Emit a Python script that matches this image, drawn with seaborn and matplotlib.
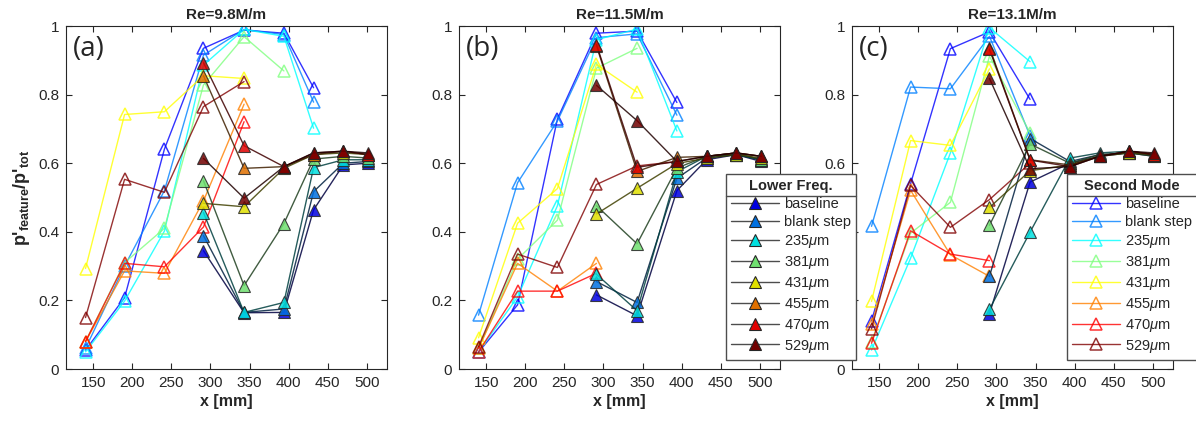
import numpy as np
import pandas as pd
import matplotlib
matplotlib.use("Agg")
import matplotlib.pyplot as plt
from matplotlib.lines import Line2D
import seaborn as sns

nan = np.nan

# streamwise measurement stations [mm]
x_mm = [140, 190, 241, 291, 343, 394, 432, 470, 502]

configs = ["baseline", "blank step", "235", "381", "431", "455", "470", "529"]
legend_labels = ["baseline", "blank step"] + [rf"{c}$\mu$m" for c in configs[2:]]

# jet(8) colour order
jet8 = [(0.0, 0.0, 1.0), (0.0, 0.5, 1.0), (0.0, 1.0, 1.0), (0.5, 1.0, 0.5),
        (1.0, 1.0, 0.0), (1.0, 0.5, 0.0), (1.0, 0.0, 0.0), (0.5, 0.0, 0.0)]

titles = ["Re=9.8M/m", "Re=11.5M/m", "Re=13.1M/m"]
panel_tags = ["(a)", "(b)", "(c)"]

# ---- Re = 9.8 M/m ----
second_a = [
    [0.055, 0.208, 0.641, 0.935, 0.988, 0.979, 0.820, nan, nan],
    [0.060, 0.300, 0.520, 0.915, 0.990, 0.975, 0.778, nan, nan],
    [0.050, 0.198, 0.402, 0.886, 0.990, 0.970, 0.702, nan, nan],
    [0.080, 0.310, 0.410, 0.828, 0.969, 0.869, nan, nan, nan],
    [0.293, 0.742, 0.750, 0.855, 0.847, nan, nan, nan, nan],
    [0.080, 0.286, 0.279, 0.490, 0.772, nan, nan, nan, nan],
    [0.080, 0.308, 0.298, 0.414, 0.721, nan, nan, nan, nan],
    [0.150, 0.553, 0.515, 0.765, 0.838, nan, nan, nan, nan],
]
lower_a = [
    [nan, nan, nan, 0.345, 0.164, 0.165, 0.464, 0.595, 0.600],
    [nan, nan, nan, 0.389, 0.165, 0.175, 0.517, 0.600, 0.605],
    [nan, nan, nan, 0.456, 0.165, 0.194, 0.587, 0.610, 0.610],
    [nan, nan, nan, 0.549, 0.243, 0.424, 0.612, 0.620, 0.615],
    [nan, nan, nan, 0.483, 0.473, 0.585, 0.625, 0.630, 0.625],
    [nan, nan, nan, 0.855, 0.585, 0.590, 0.625, 0.635, 0.625],
    [nan, nan, nan, 0.893, 0.651, 0.590, 0.630, 0.635, 0.625],
    [nan, nan, nan, 0.614, 0.498, 0.590, 0.630, 0.635, 0.630],
]

# ---- Re = 11.5 M/m ----
second_b = [
    [0.049, 0.187, 0.729, 0.979, 0.985, 0.777, nan, nan, nan],
    [0.157, 0.543, 0.723, 0.966, 0.977, 0.740, nan, nan, nan],
    [0.050, 0.210, 0.476, 0.960, 0.991, 0.694, nan, nan, nan],
    [0.060, 0.320, 0.434, 0.877, 0.935, nan, nan, nan, nan],
    [0.091, 0.425, 0.526, 0.888, 0.807, nan, nan, nan, nan],
    [0.060, 0.308, 0.227, 0.308, nan, nan, nan, nan, nan],
    [0.050, 0.227, 0.227, 0.279, nan, nan, nan, nan, nan],
    [0.065, 0.335, 0.296, 0.538, 0.592, 0.605, nan, nan, nan],
]
lower_b = [
    [nan, nan, nan, 0.216, 0.155, 0.520, 0.610, 0.625, 0.605],
    [nan, nan, nan, 0.255, 0.194, 0.556, 0.615, 0.625, 0.610],
    [nan, nan, nan, 0.276, 0.170, 0.575, 0.620, 0.625, 0.610],
    [nan, nan, nan, 0.476, 0.365, 0.586, 0.620, 0.630, 0.610],
    [nan, nan, nan, 0.452, 0.527, 0.599, 0.615, 0.625, 0.615],
    [nan, nan, nan, 0.942, 0.576, 0.617, 0.620, 0.630, 0.620],
    [nan, nan, nan, 0.946, 0.588, 0.605, 0.620, 0.630, 0.620],
    [nan, nan, nan, 0.827, 0.724, 0.605, 0.620, 0.630, 0.620],
]

# ---- Re = 13.1 M/m ----
second_c = [
    [0.140, 0.540, 0.934, 0.983, 0.786, nan, nan, nan, nan],
    [0.416, 0.822, 0.817, 0.970, 0.680, nan, nan, nan, nan],
    [0.055, 0.323, 0.630, 0.995, 0.896, nan, nan, nan, nan],
    [0.080, 0.396, 0.486, 0.912, 0.688, nan, nan, nan, nan],
    [0.197, 0.666, 0.652, 0.875, nan, nan, nan, nan, nan],
    [0.130, 0.521, 0.333, 0.270, nan, nan, nan, nan, nan],
    [0.075, 0.403, 0.335, 0.316, nan, nan, nan, nan, nan],
    [0.117, 0.535, 0.413, 0.494, 0.600, nan, nan, nan, nan],
]
lower_c = [
    [nan, nan, nan, 0.161, 0.545, 0.600, 0.620, 0.630, 0.620],
    [nan, nan, nan, 0.270, 0.672, 0.605, 0.625, 0.630, 0.625],
    [nan, nan, nan, 0.174, 0.399, 0.615, 0.630, 0.635, 0.625],
    [nan, nan, nan, 0.419, 0.656, 0.600, 0.625, 0.630, 0.620],
    [nan, nan, nan, 0.471, 0.578, 0.595, 0.620, 0.630, 0.625],
    [nan, nan, nan, 0.937, 0.610, 0.595, 0.620, 0.635, 0.625],
    [nan, nan, nan, 0.932, 0.609, 0.590, 0.620, 0.635, 0.625],
    [nan, nan, nan, 0.847, 0.584, 0.590, 0.620, 0.635, 0.630],
]

second_sets = [second_a, second_b, second_c]
lower_sets = [lower_a, lower_b, lower_c]


def long_frame(rows):
    recs = []
    for cfg, vals in zip(configs, rows):
        for xv, yv in zip(x_mm, vals):
            if not np.isnan(yv):
                recs.append({"x": xv, "ratio": yv, "config": cfg})
    return pd.DataFrame(recs)


sns.set_theme(style="ticks")
plt.rcParams.update({
    "font.family": ["Liberation Sans", "DejaVu Sans"],
    "mathtext.fontset": "custom",
    "mathtext.rm": "Liberation Sans",
    "mathtext.it": "Liberation Sans:italic",
    "mathtext.bf": "Liberation Sans:bold",
    "axes.edgecolor": "0.15",
    "xtick.color": "0.15",
    "ytick.color": "0.15",
    "xtick.labelcolor": "0.15",
    "ytick.labelcolor": "0.15",
})

W, H = 1196, 423
fig = plt.figure(figsize=(W / 100, H / 100), dpi=100)

lefts = [66, 459, 852]
ax_w = 321
ax_top, ax_bot = 26, 369

open_alpha = 0.8
fill_scale = 0.88
ms = 8

for k in range(3):
    ax = fig.add_axes([lefts[k] / W, 1 - ax_bot / H, ax_w / W, (ax_bot - ax_top) / H])
    d_open = long_frame(second_sets[k])
    d_fill = long_frame(lower_sets[k])

    for i, cfg in enumerate(configs):
        sub = d_open[d_open["config"] == cfg]
        if len(sub):
            sns.lineplot(data=sub, x="x", y="ratio", ax=ax, color=jet8[i],
                         alpha=open_alpha, lw=1.0, marker="^", markersize=ms,
                         markerfacecolor="none", markeredgecolor=jet8[i],
                         markeredgewidth=1.1, legend=False, zorder=2)
    for i, cfg in enumerate(configs):
        sub = d_fill[d_fill["config"] == cfg]
        if len(sub):
            c = jet8[i]
            face = tuple(fill_scale * v for v in c)
            dark = tuple(0.25 * v for v in c)
            sns.lineplot(data=sub, x="x", y="ratio", ax=ax, color=dark,
                         alpha=0.85, lw=1.0, marker="^", markersize=ms,
                         markerfacecolor=face, markeredgecolor="0.15",
                         markeredgewidth=0.8, legend=False, zorder=3)

    ax.set_xlim(115, 526)
    ax.set_ylim(0, 1)
    ax.set_xticks([150, 200, 250, 300, 350, 400, 450, 500])
    ax.set_yticks([0, 0.2, 0.4, 0.6, 0.8, 1.0])
    ylabels = ["0", "0.2", "0.4", "0.6", "0.8", "1"]
    if k == 2:
        # these two sit underneath the neighbouring legend box
        ylabels = ["0", "", "", "0.6", "0.8", "1"]
    ax.set_yticklabels(ylabels)
    ax.tick_params(direction="in", top=True, right=True, length=4, width=0.8,
                   labelsize=11, pad=5)
    for sp in ax.spines.values():
        sp.set_linewidth(0.8)
    ax.set_title(titles[k], fontsize=11, fontweight="bold", pad=5)
    ax.set_xlabel("x [mm]", fontsize=11.5, fontweight="bold", labelpad=3)
    if k == 0:
        ax.set_ylabel(r"p'$_{\mathbf{feature}}$/p'$_{\mathbf{tot}}$",
                      fontsize=13, fontweight="bold", labelpad=4)
    else:
        ax.set_ylabel("")
    ax.text(0.02, 0.975, panel_tags[k], transform=ax.transAxes, fontsize=20,
            family="Open Sans", va="top", ha="left")

# legends
h_lower = [Line2D([0], [0], color="0.3", lw=1.0, marker="^", markersize=ms,
                  markerfacecolor=tuple(fill_scale * v for v in c),
                  markeredgecolor="0.15", markeredgewidth=0.8) for c in jet8]
h_second = [Line2D([0], [0], color=c, alpha=open_alpha, lw=1.0, marker="^",
                   markersize=ms, markerfacecolor="none", markeredgecolor=c,
                   markeredgewidth=1.1) for c in jet8]

leg_kw = dict(loc="upper left", bbox_transform=fig.transFigure, borderaxespad=0,
              frameon=True, fancybox=False, fontsize=10.5, handlelength=3.3,
              handletextpad=0.3, labelspacing=0.27, borderpad=0.35,
              title_fontproperties={"weight": "bold", "size": 10.5})
legs = []
legs.append(fig.legend(h_lower, legend_labels, title="Lower Freq.",
                       bbox_to_anchor=(726 / W, 1 - 174 / H), **leg_kw))
legs.append(fig.legend(h_second, legend_labels, title="Second Mode",
                       bbox_to_anchor=(1067 / W, 1 - 174 / H), **leg_kw))
for lg in legs:
    fr = lg.get_frame()
    fr.set_edgecolor("0.3")
    fr.set_linewidth(1.0)
    fr.set_alpha(1.0)

# rule under each legend title
fig.canvas.draw()
inv = fig.transFigure.inverted()
for lg in legs:
    fb = lg.get_frame().get_window_extent()
    tb = lg.get_title().get_window_extent()
    y_sep = tb.y0 - 3
    (x0, y0), (x1, _) = inv.transform([(fb.x0, y_sep), (fb.x1, y_sep)])
    fig.add_artist(Line2D([x0, x1], [y0, y0], color="0.3", lw=1.0,
                          transform=fig.transFigure, zorder=6))

fig.savefig("out.png", dpi=100)
